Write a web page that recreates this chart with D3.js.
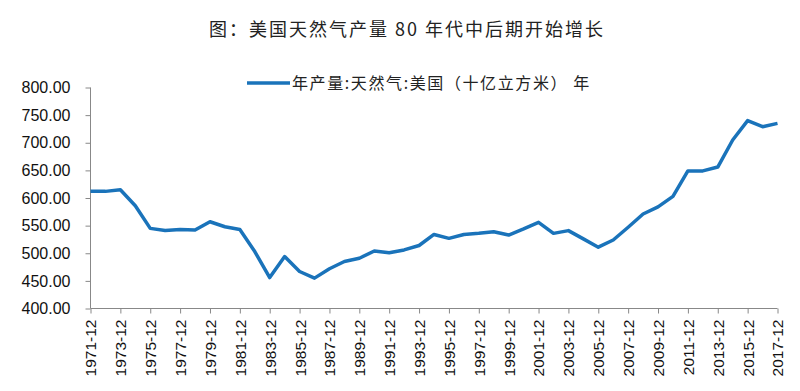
<!DOCTYPE html>
<html><head><meta charset="utf-8">
<script src="https://cdn.jsdelivr.net/npm/d3@7"></script>
<style>body{margin:0;background:#fff;}svg{display:block;}</style>
</head><body>
<script>
const years = d3.range(1971, 2018);
const values = [612, 612, 615, 586, 545, 541, 543, 542, 557, 548, 543, 503, 456, 494, 467, 455,
  472, 485, 491, 504, 501, 506, 514, 534, 527, 534, 536, 539, 533, 544, 556, 536,
  541, 526, 511, 524, 547, 571, 584, 603, 649, 649, 656, 705, 740, 729, 735];
const yTicks = [400, 450, 500, 550, 600, 650, 700, 750, 800];
const xTickYears = d3.range(1971, 2018, 2);
const title = "图：美国天然气产量 80 年代中后期开始增长";
const legendLabel = "年产量:天然气:美国（十亿立方米） 年";

const W = 800, H = 391;
const svg = d3.select("body").append("svg").attr("width", W).attr("height", H);
const x = d3.scaleLinear().domain([1971, 2017]).range([90.5, 777.5]);
const y = d3.scaleLinear().domain([400, 800]).range([308.5, 87.5]);
const font = "'Liberation Sans', Arial, sans-serif";
const cjk = "'Noto Sans CJK SC', sans-serif";

svg.append("text").attr("x", 407).attr("y", 36).attr("text-anchor", "middle")
  .attr("font-family", cjk).attr("font-size", 18).attr("letter-spacing", 2)
  .attr("fill", "#222").text(title);

// y axis
const yAxis = d3.axisLeft(y).tickValues(yTicks).tickFormat(d3.format(".2f")).tickSize(5).tickPadding(15);
const gy = svg.append("g").attr("transform", "translate(90.5,0)").call(yAxis);
gy.selectAll("text").attr("font-family", font).attr("font-size", 16).attr("fill", "#111");
gy.selectAll("line,path").attr("stroke", "#888");
gy.select(".domain").attr("d", `M0,${y(800)}V${y(400)}`);

// x axis
const xAxis = d3.axisBottom(x).tickValues(xTickYears).tickFormat(d => d + "-12").tickSize(5).tickPadding(4);
const gx = svg.append("g").attr("transform", `translate(0,${y(400)})`).call(xAxis);
gx.selectAll("line,path").attr("stroke", "#888");
gx.select(".domain").attr("d", `M${x(1971)},0H${x(2017)}`);
gx.selectAll("text").attr("font-family", font).attr("font-size", 15.5).attr("fill", "#111")
  .attr("text-anchor", "end").attr("dy", "0.35em")
  .attr("transform", "rotate(-90) translate(-11,0)")
  .attr("x", 0).attr("y", 0);

// line
const line = d3.line().x((d, i) => x(years[i])).y(d => y(d));
svg.append("path").datum(values).attr("d", line).attr("fill", "none")
  .attr("stroke", "#1a73ba").attr("stroke-width", 3.5).attr("stroke-linejoin", "round");

// legend
const lg = svg.append("g").attr("transform", "translate(247,83)");
lg.append("line").attr("x1", 0).attr("x2", 43).attr("y1", 0).attr("y2", 0)
  .attr("stroke", "#1a73ba").attr("stroke-width", 3.5);
lg.append("text").attr("x", 45).attr("y", 6).attr("font-family", cjk).attr("font-size", 16)
  .attr("letter-spacing", 1.6).attr("fill", "#222").text(legendLabel);
</script>
</body></html>
